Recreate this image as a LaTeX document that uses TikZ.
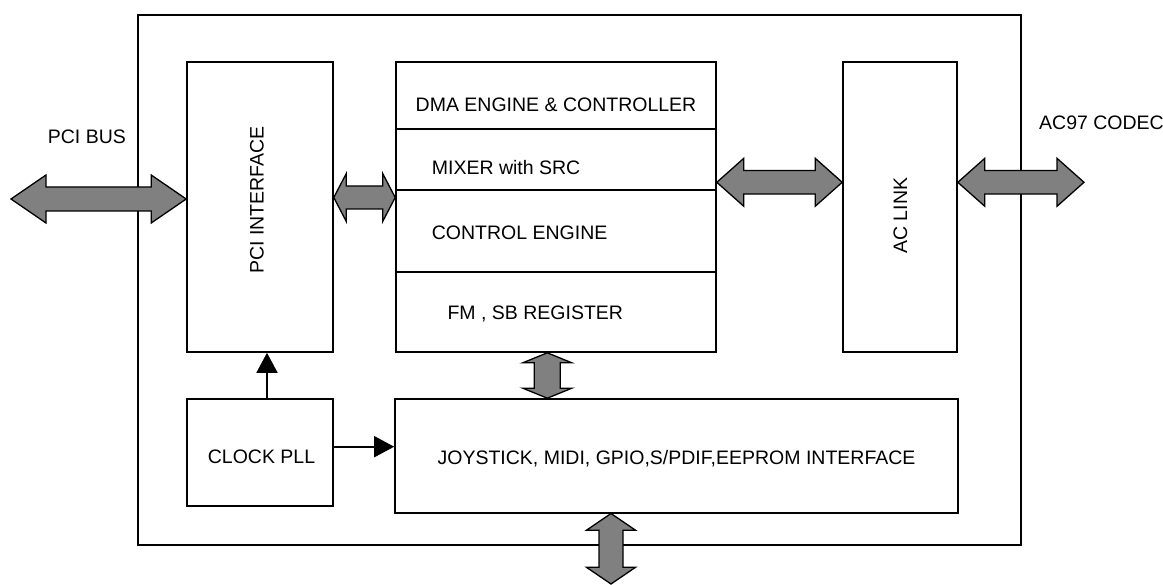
\documentclass[tikz,border=0pt]{standalone}
\usepackage{fontspec}
\setmainfont{Liberation Sans}
\usetikzlibrary{arrows.meta,calc}

\definecolor{busgray}{HTML}{808080}

\tikzset{
  blk/.style={draw, line width=1.6bp, inner sep=0pt, anchor=center},
  lbl/.style={inner sep=0pt, font=\fontsize{19.5bp}{23bp}\selectfont},
  fat/.style={draw=black, fill=busgray, line width=1.3bp, line join=miter},
  clk/.style={line width=1.6bp, -{Triangle[length=20bp, width=21bp]}},
}

% horizontal double block arrow: left end, right end, head length, head half width, shaft half width
\newcommand{\hfat}[5]{%
  \draw[fat] let \p1=(#1), \p2=(#2) in
    (\x1,\y1) -- (\x1+#3,\y1+#4) -- (\x1+#3,\y1+#5) -- (\x2-#3,\y1+#5)
    -- (\x2-#3,\y1+#4) -- (\x2,\y1) -- (\x2-#3,\y1-#4) -- (\x2-#3,\y1-#5)
    -- (\x1+#3,\y1-#5) -- (\x1+#3,\y1-#4) -- cycle;}
% vertical double block arrow: upper end, lower end, head length, head half width, shaft half width
\newcommand{\vfat}[5]{%
  \draw[fat] let \p1=(#1), \p2=(#2) in
    (\x1,\y1) -- (\x1+#4,\y1-#3) -- (\x1+#5,\y1-#3) -- (\x1+#5,\y2+#3)
    -- (\x1+#4,\y2+#3) -- (\x1,\y2) -- (\x1-#4,\y2+#3) -- (\x1-#5,\y2+#3)
    -- (\x1-#5,\y1-#3) -- (\x1-#4,\y1-#3) -- cycle;}

\begin{document}
\begin{tikzpicture}[x=1bp, y=-1bp]
\useasboundingbox (0,0) rectangle (1163,585);

% chip outline
\node[blk, minimum width=883bp, minimum height=530bp] (chip) at (579.5,280) {};

% functional blocks
\node[blk, minimum width=146bp, minimum height=290bp] (pci) at (260,207) {};
\node[blk, minimum width=320bp, minimum height=67bp] (dma) at (556,95.5) {};
\node[blk, minimum width=320bp, minimum height=61bp] (mixer) at (556,159.5) {};
\node[blk, minimum width=320bp, minimum height=82bp] (ctrl) at (556,231) {};
\node[blk, minimum width=320bp, minimum height=80bp] (fm) at (556,312) {};
\node[blk, minimum width=114bp, minimum height=290bp] (aclink) at (900,207) {};
\node[blk, minimum width=146bp, minimum height=107bp] (clock) at (260,452.5) {};
\node[blk, minimum width=563bp, minimum height=113.7bp] (joy) at (676.5,455.85) {};

% block texts
\node[lbl, rotate=90] (tpci) at (257,200) {PCI INTERFACE};
\node[lbl, anchor=base] (tdma) at (556,111.7) {DMA ENGINE \& CONTROLLER};
\node[lbl, anchor=base west] (tmix) at (431.7,175) {MIXER with SRC};
\node[lbl, anchor=base west] (tctl) at (431.7,239.3) {CONTROL ENGINE};
\node[lbl, anchor=base west] (tfm) at (447.3,319.3) {FM , SB REGISTER};
\node[lbl, rotate=90] (tac) at (900.3,215.8) {AC LINK};
\node[lbl, anchor=base west] (tclk) at (207.7,463.3) {CLOCK PLL};
\node[lbl, anchor=base] (tjoy) at (676.5,464.5) {JOYSTICK, MIDI, GPIO,S/PDIF,EEPROM INTERFACE};

% external labels
\node[lbl, anchor=base west] (tbus) at (47.7,143.3) {PCI BUS};
\node[lbl, anchor=base west] (tcodec) at (1039,130) {AC97 CODEC};

% bus connections
\coordinate (busL) at (11,199);
\coordinate (ypcs) at (0,197.5);
\coordinate (yac) at (0,182.3);
\coordinate (codecR) at (1084,182.3);
\coordinate (xmid) at (547.3,0);
\coordinate (xbot) at (611,0);
\coordinate (busB) at (611,584);

\hfat{busL}{pci.west |- busL}{35bp}{24bp}{12bp}
\hfat{pci.east |- ypcs}{ctrl.west |- ypcs}{12.5bp}{24bp}{11.5bp}
\hfat{mixer.east |- yac}{aclink.west |- yac}{27bp}{24bp}{11.8bp}
\hfat{aclink.east |- yac}{codecR}{27bp}{24bp}{11.8bp}
\vfat{fm.south -| xmid}{joy.north -| xmid}{10bp}{24.5bp}{13bp}
\vfat{joy.south -| xbot}{busB}{16.7bp}{24.5bp}{12bp}

% clock distribution
\coordinate (cup) at ([xshift=7bp]clock.north);
\coordinate (yclk) at (0,446.7);
\draw[clk] (cup) -- (cup |- pci.south);
\draw[clk] (clock.east |- yclk) -- (joy.west |- yclk);
\end{tikzpicture}
\end{document}
